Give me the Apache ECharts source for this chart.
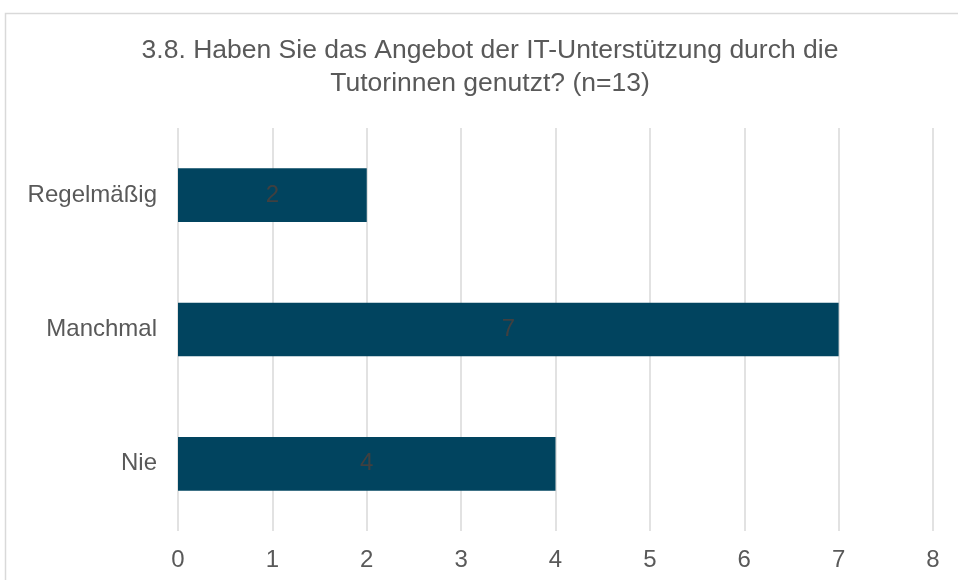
<!DOCTYPE html>
<html>
<head>
<meta charset="utf-8">
<script src="https://cdn.jsdelivr.net/npm/echarts@6/dist/echarts.min.js"></script>
<style>
html, body { margin: 0; padding: 0; background: #fff; }
#container { width: 958px; height: 580px; }
</style>
</head>
<body>
<div id="container"></div>
<script>
// Daten
var categories = ['Nie', 'Manchmal', 'Regelmäßig'];
var values = [4, 7, 2];
var xTicks = [0, 1, 2, 3, 4, 5, 6, 7, 8];

var myChart = echarts.init(document.getElementById('container'));
var option = {
	backgroundColor: '#fff',
	title: {
		text: '3.8. Haben Sie das Angebot der IT-Unterstützung durch die\nTutorinnen genutzt? (n=13)',
		left: 485,
		top: 29,
		textAlign: 'center',
		textStyle: {
			fontFamily: 'Liberation Sans',
			fontSize: 26.5,
			fontWeight: 'normal',
			color: '#595959',
			lineHeight: 33
		}
	},
	graphic: [{
		type: 'rect',
		shape: { x: 5.5, y: 13.5, width: 980, height: 600 },
		style: { fill: 'none', stroke: '#d9d9d9', lineWidth: 1.5 },
		silent: true
	}],
	grid: {
		left: 178,
		right: 25,
		top: 128,
		bottom: 49
	},
	xAxis: {
		type: 'value',
		min: xTicks[0],
		max: xTicks[xTicks.length - 1],
		interval: 1,
		axisLine: { show: false },
		axisTick: { show: false },
		axisLabel: {
			margin: 17,
			fontFamily: 'Liberation Sans',
			fontSize: 24,
			color: '#595959'
		},
		splitLine: { lineStyle: { color: '#d9d9d9', width: 1.5 } }
	},
	yAxis: {
		type: 'category',
		data: categories,
		axisLine: { show: false },
		axisTick: { show: false },
		axisLabel: {
			margin: 21,
			fontFamily: 'Liberation Sans',
			fontSize: 24,
			color: '#595959'
		}
	},
	series: [{
		type: 'bar',
		data: values,
		barWidth: '40%',
		itemStyle: { color: '#01445f' },
		label: {
			show: true,
			position: 'inside',
			fontFamily: 'Liberation Sans',
			fontSize: 24,
			color: '#404040'
		}
	}]
};
myChart.setOption(option);
</script>
</body>
</html>
